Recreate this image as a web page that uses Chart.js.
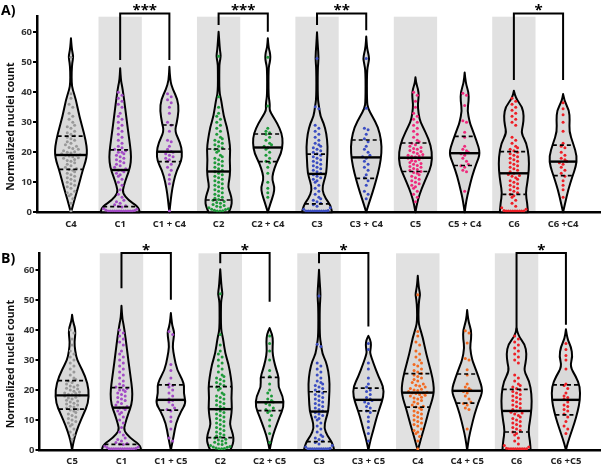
<!DOCTYPE html>
<html><head><meta charset="utf-8">
<script src="https://cdn.jsdelivr.net/npm/chart.js@4"></script>
<style>
body{margin:0;background:#fff;width:602px;height:470px;overflow:hidden;position:relative}
canvas{position:absolute;left:0}
</style></head><body>
<canvas id="ca" width="602" height="235" style="top:0"></canvas>
<canvas id="cb" width="602" height="235" style="top:235px"></canvas>
<script>
// ---------- categories ----------
const labelsA = ['C4','C1','C1 + C4','C2','C2 + C4','C3','C3 + C4','C5','C5 + C4','C6','C6 +C4'];
const labelsB = ['C5','C1','C1 + C5','C2','C2 + C5','C3','C3 + C5','C4','C4 + C5','C6','C6 +C5'];
const yTicks = [0,10,20,30,40,50,60];

// ---------- individual values (normalized nuclei count) ----------
const vC4 = [0.4,3,4.5,5.5,6,6.5,7,8,8.5,9,9.5,10,10.5,11,11.5,12,12.5,13,13.5,14,14.3,14.6,15,15.5,16,16.5,17,17.3,17.6,18,18.2,18.5,18.8,19,19,19.2,19.5,19.8,20,20.2,20.5,21,21.3,21.6,22,22.5,23,23.5,24,24.5,25,25.5,26,26.5,27,28,28.5,29,30,31,32,33,35,36,38,39.5,51.7];
const vC1 = [0.4,0.4,0.4,0.4,0.4,0.4,0.4,0.4,0.4,0.4,0.4,0.4,0.6,0.8,1,1.3,1.8,2,2.2,2.5,3,3.5,4,5,6,7.5,9,10,11,12,12.5,13,13.5,14,14,14.5,15,15.5,16,16.5,17,17.5,18,18.5,19,19.5,20,20,20.5,21,21.5,22,23,24,25,26,27,28,29,30,31,32,33,35,36,37,38,39,40];
const vC2 = [0.4,0.4,0.5,0.7,0.9,1,1.2,1.5,1.8,2,2.3,2.6,3,3.3,3.6,4,4.3,4.7,5,5.5,6,6.5,7,7.5,8,8.5,9,9.5,10,10.5,11,11.5,12,12.5,13,13.5,14,14.5,15,15.5,16,16.5,17,17.5,18,18.5,19,20,20.5,21,21.5,22,22.5,23,23.5,24,24.5,25,26,27,28,29,30,31,32,33,35,38.5,52];
const vC3 = [0.4,0.4,0.4,0.4,0.4,0.4,0.4,0.4,0.4,0.4,0.6,1,1.5,2,2.5,3,3.5,4,4.5,5,6,7,8,9,10,10.5,11,11.5,12,12.5,13,13.5,14,14.5,15,15.5,16,16.5,17,17.5,18,18.5,19,19.5,20,20.5,21,21.5,22,22.5,23,24,25,26,27,28,29,34.5,35.2,51.3];
const vC5 = [3.5,5,6,7,8,8.5,9,9.5,10,10.5,11,11.5,12,12.5,13,13.3,13.6,14,14.3,14.6,15,15.3,15.6,16,16.3,16.6,17,17.3,17.6,18,18.2,18.4,18.6,18.8,19,19.3,19.6,20,20.3,20.6,21,21.3,21.6,22,22.5,23,23.5,24,25,26,27,28,29,30,31,32,33,35,37,39,40];
const vC6 = [0.4,0.4,0.4,0.4,0.4,0.4,0.4,0.4,0.4,0.6,1,1.5,2,3,4,5,5.5,6,6.5,7,7.5,8,8.5,9,9.5,10,10.5,11,11.5,12,12.3,12.6,13,13.5,14,14.5,15,15.5,16,16.5,17,17.5,18,18.5,19,19.5,20,20.5,21,21.5,22,23,24,25,29,30,31,32,33,34,35,36,37,38];
const vC1C4 = [0.4,9.5,11,12.5,14,15,16,17,17.5,18,18.5,19,19.5,20,20.3,21,22,23.5,24,27,29,30,33,35,36.5,37.5,38.5,39.5];
const vC2C4 = [5,6.5,8,10,13,15,16.5,17,18,19,20,21,21.5,22,22.5,23,24,25,26,26.5,27,28,35.4,51.7];
const vC3C4 = [4.5,6,7,9,10.5,11.5,12.5,14,15,16,17,18,18.5,19,20,21,22,23.5,24.5,26,27.5,28,34.7,51.3];
const vC4C5 = [7,13.5,14,15,15.5,16,17,18,19,19.5,20,20.5,21,22,25,26.7,30,30.5,35.6,39,39.7];
const vC6C4 = [5,7.5,9,10.5,12,13,14,15,16,16.5,17,17.5,18,19,20,21.5,22,23,27,30,32.5,34.5,36.5];
const vC1C5 = [3,4,7,9.5,11,13,13.5,14,15,16,16.5,17,18,19,20,21,21.5,22,24,26.5,28.5,38.5,39.5];
const vC2C5 = [2.5,5.5,8,10,11.5,12.5,13,13.5,14,15,15.5,16,16.5,17,18,19,20,22,24.5,26.5,30,33,35.5,38];
const vC3C5 = [3,5.5,7.5,9.5,11,12.5,13,14,14.5,15.5,16,16.5,17,17.5,18.5,19.5,20,21,22,24,27,29,33.5,35.5];
const vC6C5 = [5.5,7,8,9.5,11,12,13,13.5,14.5,15,16,17,17.5,18,19,20.5,21.5,22,27,30,31.5,33.5,35.5];

// ---------- violin density outlines: [value, relative density] ----------
const dC4 = [[58,0],[55,2],[53,5],[51.7,7],[50,4],[47,2],[43,2],[41,5],[37.5,15],[32,25],[26,40],[22,47],[19.5,48],[17,44],[14,35],[8.5,22],[4,10],[1,3],[0,0]];
const dC1 = [[48,0],[44,2],[42,6],[37.5,12],[32,18],[26,25],[22,30],[18.5,33],[15,30],[12,20],[8.5,10],[6.5,7],[4,25],[2,52],[0.5,58],[0,58]];
const dC2 = [[60.2,0],[57,2],[54,4],[52,7],[50,3],[48,2],[40,2],[37.4,8],[32,15],[28.5,25],[24,32],[20.8,35],[17.4,33],[14,35],[10.8,32],[8.5,28],[6.3,35],[4,40],[1.9,38],[0,30]];
const dC3 = [[60,0],[56,2],[51.3,5],[48,2],[38,2],[35.2,6],[32,10],[29.7,20],[26.3,28],[21.9,32],[17.4,30],[13,28],[10.2,20],[7.4,15],[4.7,25],[2.4,40],[0,45]];
const dC5 = [[45,0],[43,2],[41,8],[39,10],[37,8],[35,7],[31,12],[28.9,20],[24.4,40],[20,50],[15.6,48],[12.2,35],[7.8,18],[4.4,8],[2,3],[0,0]];
const dC6 = [[40.5,0],[38,5],[35.2,25],[32,30],[29,27],[26.3,22],[23,38],[18.5,45],[14.1,45],[9.7,40],[6.3,35],[3,40],[0,42]];
const dC1C4 = [[48.5,0],[44,2],[41,10],[37.5,25],[34,28],[29.7,22],[27,16],[23,33],[20,38],[17,36],[14,22],[10,12],[6,6],[3,3],[0,0]];
const dC2C4 = [[58,0],[55,2],[53.5,6],[51.7,8],[50,6],[48,2],[39,2],[37,5],[35.4,6],[34,5],[32,15],[29.7,28],[26.3,42],[23,45],[19.7,40],[16.3,25],[13,15],[10.8,13],[8.5,20],[6.3,18],[3,8],[0,0]];
const dC3C4 = [[58.6,0],[55,2],[53,6],[51.3,9],[49.5,6],[47,2],[37,2],[34.7,5],[32,18],[28.5,35],[24,45],[19.7,46],[15.2,40],[10.8,30],[6.3,18],[3,8],[0,0]];
const dC4C5 = [[46.6,0],[43,3],[40,12],[37,12],[34,8],[30,15],[28.5,20],[24,35],[19.7,47],[16.3,35],[12,22],[7.4,12],[4,5],[0,0]];
const dC6C4 = [[39.4,0],[37,4],[34,18],[30.8,20],[26.9,18],[23,30],[18.5,42],[15.2,38],[12,28],[7.4,15],[3,6],[0,0]];
const dC1C5 = [[45.6,0],[42,3],[40,8],[38.9,10],[37,8],[34.4,5],[31,10],[26.7,18],[22.2,40],[18.9,38],[15.6,45],[12.8,30],[8.9,15],[4.4,8],[0,0]];
const dC2C5 = [[40.6,0],[38.5,8],[36,10],[33,8],[30,12],[26.7,20],[23.9,28],[21.1,25],[17.8,40],[14.4,42],[11.1,30],[6.7,15],[3.3,6],[0,0]];
const dC3C5 = [[38,0],[36.7,6],[35,8],[33.3,6],[32.2,5],[28.9,15],[24.4,30],[21.1,45],[17.8,45],[14.4,35],[11.1,25],[6.7,15],[3.3,6],[0,0]];
const dC6C5 = [[40.2,0],[37,4],[34.4,15],[31.1,20],[27.8,12],[24.4,30],[21.1,42],[16.7,42],[12.8,35],[8.9,25],[5.6,15],[2.2,5],[0,0]];

// ---------- quartiles: [Q1, median, Q3] ----------
const sC4 = [14.3,19.1,25.4];
const sC1 = [1.9,14.1,20.8];
const sC2 = [4.1,13.6,21.1];
const sC3 = [2.8,12.8,19.4];
const sC5 = [13.6,18.2,23.1];
const sC6 = [6.0,13.0,20.2];
const sC1C4 = [16.9,20.2,29.1];
const sC2C4 = [16.9,21.6,26.1];
const sC3C4 = [11.3,18.3,24.1];
const sC4C5 = [15.6,19.7,25.3];
const sC6C4 = [12.2,16.9,22.4];
const sC1C5 = [13.3,16.7,21.7];
const sC2C5 = [13.1,15.9,24.2];
const sC3C5 = [13.0,16.7,20.6];
const sC6C5 = [11.7,16.7,21.7];

// ---------- significance ----------
const sigA = ['***','***','**','*'];
const sigB = ['*','*','*','*'];

// ---------- styling / layout ----------
const COL = {gray:'#999999', purple:'#a34cc6', green:'#1e9a3a', blue:'#3b4dc2', pink:'#ef2a7c', red:'#ee1f26', orange:'#f26a22'};
const FONT = '"Open Sans", "Noto Sans", sans-serif';

const panelA = {
  canvas:'ca', letter:'A)', labels:labelsA,
  vals:[vC4,vC1,vC1C4,vC2,vC2C4,vC3,vC3C4,vC5,vC4C5,vC6,vC6C4],
  dens:[dC4,dC1,dC1C4,dC2,dC2C4,dC3,dC3C4,dC5,dC4C5,dC6,dC6C4],
  stats:[sC4,sC1,sC1C4,sC2,sC2C4,sC3,sC3C4,sC5,sC4C5,sC6,sC6C4],
  cols:[COL.gray,COL.purple,COL.purple,COL.green,COL.green,COL.blue,COL.blue,COL.pink,COL.pink,COL.red,COL.red],
  shade:[1,3,5,7,9],
  brackets:[[1,2,50.8,50.8],[3,4,62.4,60.2],[5,6,62.4,60.7],[9,10,44.1,44.1]], sig:sigA, brTop:66.3,
  xmin:-0.69, xmax:10.75, ymax:65.2, yw:37, xh:22.7, top:16.7, letterY:15
};
const panelB = {
  canvas:'cb', letter:'B)', labels:labelsB,
  vals:[vC5,vC1,vC1C5,vC2,vC2C5,vC3,vC3C5,vC4,vC4C5,vC6,vC6C5],
  dens:[dC5,dC1,dC1C5,dC2,dC2C5,dC3,dC3C5,dC4,dC4C5,dC6,dC6C5],
  stats:[sC5,sC1,sC1C5,sC2,sC2C5,sC3,sC3C5,sC4,sC4C5,sC6,sC6C5],
  cols:[COL.gray,COL.purple,COL.purple,COL.green,COL.green,COL.blue,COL.blue,COL.orange,COL.orange,COL.red,COL.red],
  shade:[1,3,5,7,9],
  brackets:[[1,2,53.9,50],[3,4,62.2,49.4],[5,6,62.2,41.1],[9,10,40,41.7]], sig:sigB, brTop:65.6,
  xmin:-0.66, xmax:10.69, ymax:65.5, yw:39.5, xh:20, top:18.3, letterY:28
};

const DW = 0.34/50;     // category units per density unit
const SW = 0.075;       // swarm spacing (category units)

function widthAt(p, v){
  for(let i=0;i<p.length-1;i++){
    const [v1,w1]=p[i],[v2,w2]=p[i+1];
    if(v<=v1 && v>=v2){ const t=(v1-v)/((v1-v2)||1); return w1+(w2-w1)*t; }
  }
  return 0;
}
// deterministic row layout of the dots inside their violin
function swarm(vals, idx, prof){
  const s=[...vals].sort((a,b)=>a-b); const out=[]; let i=0;
  while(i<s.length){
    let j=i; while(j<s.length && s[j]-s[i]<1.2) j++;
    const n=j-i;
    const vm=(s[i]+s[j-1])/2;
    const hw=Math.max(widthAt(prof,vm)*DW*0.85, 0.02);
    const sp = n>1 ? Math.min(SW, Math.max(2*hw/(n-1), 0.045)) : 0;
    // centre-out ordering so rows look like a swarm
    for(let k=0;k<n;k++){
      const slot = (k%2===0 ? 1 : -1)*Math.ceil(k/2);
      const off = (n%2===1) ? slot*sp : (slot + (k%2===0?0.5:-0.5)*(k===0?1:1))*sp;
      out.push({x: idx + (n%2===1 ? slot*sp : ((k%2===0? Math.floor(k/2)+0.5 : -(Math.floor(k/2)+0.5))*sp)), y: s[i+k]});
    }
    i=j;
  }
  return out;
}
function smooth(ctx,P,first){
  if(first) ctx.moveTo(P[0][0],P[0][1]); else ctx.lineTo(P[0][0],P[0][1]);
  for(let i=1;i<P.length-1;i++){
    const mx=(P[i][0]+P[i+1][0])/2, my=(P[i][1]+P[i+1][1])/2;
    ctx.quadraticCurveTo(P[i][0],P[i][1],mx,my);
  }
  ctx.lineTo(P[P.length-1][0],P[P.length-1][1]);
}

function makePlugin(cfg){
  return {
    id:'violins',
    beforeDraw(chart){
      const {ctx, chartArea:a, scales:{x}} = chart;
      ctx.save(); ctx.fillStyle='#e1e1e1';
      cfg.shade.forEach(i=>{
        const l=x.getPixelForValue(i-0.44), r=x.getPixelForValue(i+0.44);
        ctx.fillRect(l,a.top,r-l,a.bottom-a.top);
      });
      ctx.restore();
    },
    beforeDatasetsDraw(chart){
      const {ctx, scales:{x,y}} = chart;
      ctx.save();
      cfg.dens.forEach((p,i)=>{
        const R=p.map(([v,w])=>[x.getPixelForValue(i+w*DW), y.getPixelForValue(v)]);
        const L=p.map(([v,w])=>[x.getPixelForValue(i-w*DW), y.getPixelForValue(v)]).reverse();
        ctx.beginPath(); smooth(ctx,R,true); smooth(ctx,L,false); ctx.closePath();
        ctx.fillStyle='#d9d9d9'; ctx.fill();
        ctx.lineWidth=2; ctx.strokeStyle='#000'; ctx.lineJoin='round'; ctx.stroke();
      });
      ctx.restore();
    },
    afterDatasetsDraw(chart){
      const {ctx, scales:{x,y}} = chart;
      ctx.save(); ctx.strokeStyle='#000';
      cfg.stats.forEach((s,i)=>{
        const p=cfg.dens[i];
        s.forEach((v,k)=>{
          const w=widthAt(p,v)*DW*0.97;
          const l=x.getPixelForValue(i-w), r=x.getPixelForValue(i+w), yy=y.getPixelForValue(v);
          ctx.beginPath();
          if(k===1){ ctx.setLineDash([]); ctx.lineWidth=2.4; }
          else { ctx.setLineDash([4,3]); ctx.lineWidth=1.7; }
          ctx.moveTo(l,yy); ctx.lineTo(r,yy); ctx.stroke();
        });
      });
      ctx.setLineDash([]);
      ctx.lineWidth=2; ctx.lineJoin='miter';
      const top=y.getPixelForValue(cfg.brTop);
      cfg.brackets.forEach(([a,b,la,lb],k)=>{
        const xa=x.getPixelForValue(a), xb=x.getPixelForValue(b);
        ctx.beginPath();
        ctx.moveTo(xa,y.getPixelForValue(la)); ctx.lineTo(xa,top); ctx.lineTo(xb,top); ctx.lineTo(xb,y.getPixelForValue(lb));
        ctx.stroke();
        ctx.fillStyle='#000'; ctx.font='bold 15px '+FONT; ctx.textAlign='center'; ctx.textBaseline='alphabetic';
        ctx.fillText(cfg.sig[k],(xa+xb)/2, top+2);
      });
      ctx.restore();
    },
    afterDraw(chart){
      const {ctx, scales:{y}} = chart;
      ctx.save();
      ctx.fillStyle='#000';
      ctx.font='bold 14px '+FONT; ctx.textAlign='left'; ctx.textBaseline='alphabetic';
      ctx.fillText(cfg.letter,1,cfg.letterY);
      ctx.translate(11, y.getPixelForValue(28.6)); ctx.rotate(-Math.PI/2);
      ctx.font='bold 10.5px '+FONT; ctx.textAlign='center'; ctx.textBaseline='middle';
      ctx.fillStyle='#111';
      ctx.fillText('Normalized nuclei count',0,0);
      ctx.restore();
    }
  };
}

function build(cfg){
  const datasets = cfg.vals.map((v,i)=>({
    data: swarm(v,i,cfg.dens[i]), backgroundColor: cfg.cols[i], borderWidth:0, pointRadius:1.5, pointHoverRadius:1.5
  }));
  new Chart(document.getElementById(cfg.canvas), {
    type:'scatter',
    data:{datasets},
    options:{
      responsive:false, animation:false, devicePixelRatio:1,
      layout:{padding:{top:cfg.top, right:2, left:0, bottom:0}},
      plugins:{legend:{display:false}, tooltip:{enabled:false}},
      scales:{
        x:{type:'linear', min:cfg.xmin, max:cfg.xmax,
          afterBuildTicks:s=>{ s.ticks = cfg.labels.map((_,i)=>({value:i})); },
          afterFit:s=>{ s.height = cfg.xh; },
          grid:{display:true, drawOnChartArea:false, drawTicks:false},
          border:{display:true, color:'#000', width:2.5},
          ticks:{callback:(v)=>cfg.labels[v], font:{family:FONT, weight:'bold', size:9.5}, color:'#222', padding:6, maxRotation:0, autoSkip:false}
        },
        y:{type:'linear', min:0, max:cfg.ymax,
          afterBuildTicks:s=>{ s.ticks = yTicks.map(v=>({value:v})); },
          afterFit:s=>{ s.width = cfg.yw; },
          grid:{display:true, drawOnChartArea:false, drawTicks:true, tickLength:4, lineWidth:2, color:'#000'},
          border:{display:true, color:'#000', width:2.5},
          ticks:{font:{family:FONT, weight:'bold', size:9.5}, color:'#333', padding:1}
        }
      }
    },
    plugins:[makePlugin(cfg)]
  });
}
build(panelA);
build(panelB);
</script>
</body></html>
